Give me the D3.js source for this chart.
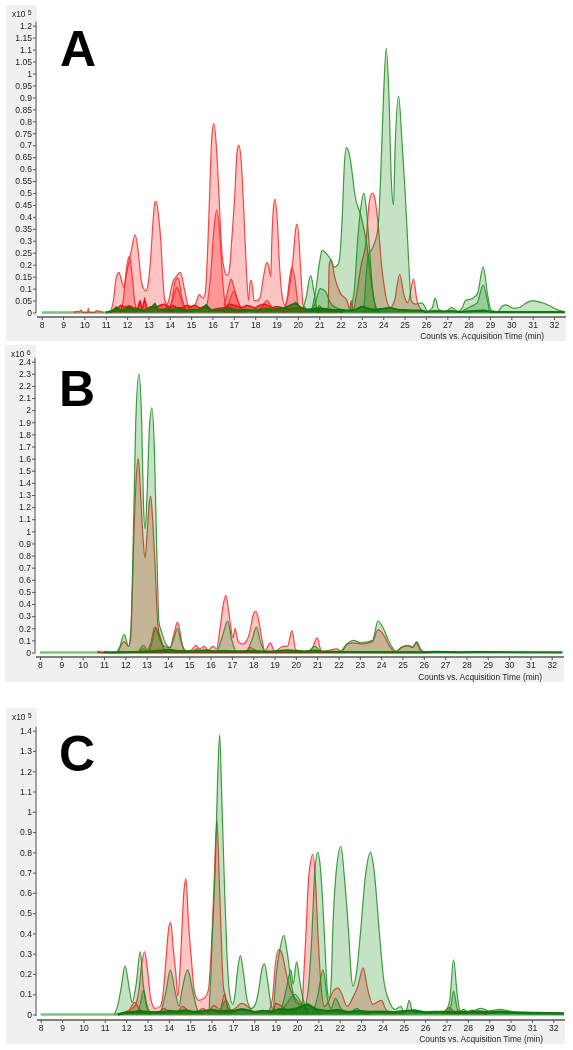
<!DOCTYPE html>
<html>
<head>
<meta charset="utf-8">
<script src="https://cdn.jsdelivr.net/npm/d3@7"></script>
<style>
  html, body { margin: 0; padding: 0; background: #fff; }
  svg { display: block; filter: blur(0.45px); }
  text { font-family: "Liberation Sans", Arial, sans-serif; fill: #222; }
</style>
</head>
<body>
<div id="chart"></div>
<script>
// Time axis, shared by the three runs
const xTicks = [8,9,10,11,12,13,14,15,16,17,18,19,20,21,22,23,24,25,26,27,28,29,30,31,32];
const yTicksA = [0,0.05,0.1,0.15,0.2,0.25,0.3,0.35,0.4,0.45,0.5,0.55,0.6,0.65,0.7,0.75,0.8,0.85,0.9,0.95,1,1.05,1.1,1.15,1.2];
const yTicksB = [0,0.1,0.2,0.3,0.4,0.5,0.6,0.7,0.8,0.9,1,1.1,1.2,1.3,1.4,1.5,1.6,1.7,1.8,1.9,2,2.1,2.2,2.3,2.4];
const yTicksC = [0,0.1,0.2,0.3,0.4,0.5,0.6,0.7,0.8,0.9,1,1.1,1.2,1.3,1.4];
const baseline = [[8,0],[32.5,0]];

// Panel A, pairs of [minutes, counts x10^5]
const aRedBlips = [[9.5,0],[9.6,.004],[9.75,.003],[9.85,.01],[9.92,0],[10.15,0],[10.18,.018],[10.22,0],[10.5,0],[10.55,.008],[10.75,.004],[10.9,0]];
const aRedEarly = [[11,0],[11.2,.005],[11.36,.05],[11.5,.15],[11.62,.168],[11.72,.14],[11.86,.105],[11.95,.15],[12.06,.2],[12.2,.26],[12.37,.325],[12.53,.25],[12.64,.15],[12.77,.1],[12.88,.09],[12.97,.11],[13.1,.22],[13.2,.36],[13.3,.46],[13.36,.465],[13.48,.4],[13.58,.3],[13.67,.15],[13.77,.05],[14,.02]];
const aRed121 = [[11.65,0],[11.82,.05],[11.95,.17],[12.1,.235],[12.22,.17],[12.35,.05],[12.5,0]];
const aRed14a = [[13.75,0],[13.95,.05],[14.15,.13],[14.3,.15],[14.5,.168],[14.68,.1],[14.88,.02],[15.05,0]];
const aRed14b = [[13.9,0],[14.1,.05],[14.25,.13],[14.4,.145],[14.55,.07],[14.8,0]];
const aRed14c = [[13.95,0],[14.15,.06],[14.35,.105],[14.52,.06],[14.75,0]];
const aRedMid = [[14.9,.02],[15.2,.035],[15.38,.075],[15.55,.06],[15.66,.08],[15.79,.3],[15.87,.5],[15.96,.72],[16.06,.79],[16.18,.7],[16.3,.5],[16.42,.28],[16.55,.18],[16.67,.155],[16.78,.17],[16.9,.3],[17.05,.5],[17.14,.66],[17.23,.7],[17.35,.63],[17.48,.4],[17.58,.2],[17.69,.05],[17.77,.13],[17.83,.135],[17.95,.05],[18.08,.05],[18.22,.06],[18.39,.15],[18.55,.21],[18.64,.19],[18.73,.15],[18.78,.3],[18.86,.44],[18.93,.475],[19.04,.38],[19.14,.2],[19.25,.08],[19.4,.03],[19.6,.1],[19.8,.25],[19.9,.35],[19.98,.37],[20.12,.2],[20.25,.03],[20.5,.01]];
const aRed162 = [[15.7,0],[15.92,.16],[16.08,.36],[16.2,.43],[16.34,.33],[16.48,.13],[16.65,.02],[16.85,0]];
const aRed169 = [[16.5,0],[16.72,.09],[16.87,.14],[17.05,.09],[17.27,.03],[17.5,0]];
const aRed170 = [[16.55,0],[16.8,.05],[17,.09],[17.22,.04],[17.45,0]];
const aRed185 = [[18,0],[18.3,.02],[18.55,.05],[18.8,.02],[19.1,.01],[19.4,0]];
const aRed197 = [[19.25,0],[19.48,.05],[19.72,.19],[19.86,.14],[20.02,.03],[20.2,0]];
const aRedLate = [[20.9,0],[21,.03],[21.2,.01],[21.42,.02],[21.47,.2],[21.55,.22],[21.75,.14],[22,.08],[22.3,.05],[22.42,.015],[22.5,.05],[22.6,.01],[22.72,.06],[22.97,.2],[23.2,.3],[23.33,.45],[23.48,.5],[23.6,.48],[23.78,.35],[23.92,.2],[24.06,.1],[24.33,.02],[24.53,.05],[24.77,.16],[24.98,.07],[25.15,.04],[25.42,.14],[25.58,.05],[25.8,.01],[26,0]];
const aRedNoise = [[11.2,0],[11.5,.012],[11.7,.03],[11.9,.022],[12.1,.028],[12.3,.02],[12.5,.016],[12.6,.05],[12.7,.012],[12.82,.055],[12.95,.015],[13.1,.025],[13.3,.02],[13.55,.03],[13.75,.035],[13.95,.02],[14.15,.03],[14.3,.02],[14.6,.02],[14.8,.03],[15,.025],[15.2,.03],[15.4,.018],[15.6,.025],[15.8,.015],[16,.012],[16.3,.018],[16.6,.02],[16.8,.035],[17,.03],[17.2,.025],[17.4,.02],[17.6,.03],[17.8,.025],[18,.018],[18.2,.03],[18.4,.035],[18.6,.03],[18.8,.02],[19,.025],[19.3,.02],[19.5,.015],[20,.02],[20.5,.01],[21,.012],[21.5,.006],[22,.005],[22.1,0]];
const aGreenNoise = [[11,0],[11.3,.006],[11.5,.022],[11.7,.008],[11.9,.012],[12.1,.022],[12.3,.01],[12.5,.016],[12.7,.008],[12.9,.012],[13.1,.016],[13.3,.036],[13.45,.012],[13.7,.012],[13.9,.014],[14.1,.01],[14.3,.018],[14.5,.013],[14.7,.01],[14.9,.009],[15.1,.012],[15.3,.01],[15.5,.014],[15.7,.032],[15.9,.012],[16.1,.01],[16.3,.009],[16.5,.012],[16.8,.018],[17,.012],[17.3,.009],[17.6,.011],[17.9,.008],[18.2,.012],[18.5,.016],[18.8,.012],[19.1,.016],[19.4,.02],[19.65,.03],[19.9,.04],[20.1,.022],[20.4,.012],[20.7,.015],[21,.018],[21.3,.015],[21.6,.012],[22,.01],[22.4,.008],[22.7,.012],[23,.025],[23.3,.016],[23.6,.012],[24,.016],[24.3,.02],[24.7,.012],[25,.01],[25.4,.008],[25.8,.008],[26,.003],[26.4,.006],[26.8,.004],[27.2,.006],[27.6,.002],[28.2,.006],[28.7,.008],[29.1,.002],[32.5,.002]];
const aGreen206 = [[20.22,.01],[20.38,.06],[20.6,.155],[20.75,.09],[20.9,.01],[21,0]];
const aGreen210 = [[20.55,0],[20.78,.03],[21.05,.1],[21.28,.09],[21.52,.04],[21.8,.02],[22.2,.01]];
const aGreen223 = [[20.65,.01],[20.85,.1],[21,.2],[21.14,.26],[21.4,.24],[21.55,.22],[21.72,.19],[21.88,.2],[21.98,.25],[22.08,.4],[22.18,.62],[22.27,.69],[22.42,.66],[22.55,.58],[22.66,.5],[22.97,.4],[23.2,.3],[23.48,.1],[23.67,0]];
const aGreen231 = [[22.45,.01],[22.65,.1],[22.8,.3],[22.95,.44],[23.09,.5],[23.2,.44],[23.33,.3],[23.5,.1],[23.67,.02],[23.85,0]];
const aGreen241 = [[23.1,.02],[23.3,.24],[23.5,.27],[23.75,.35],[23.87,.55],[24.02,.92],[24.14,1.105],[24.27,.9],[24.38,.55],[24.48,.45],[24.56,.7],[24.72,.905],[24.89,.7],[25.03,.5],[25.2,.2],[25.31,.05],[25.5,.035],[25.8,.04],[26.05,.005]];
const aGreenTail = [[26.1,.005],[26.3,.02],[26.43,.06],[26.6,.012],[26.9,.004],[27.2,.02],[27.5,.005],[27.7,.02],[27.85,.05],[28.2,.06],[28.42,.08],[28.68,.19],[28.9,.07],[29.05,.01],[29.35,.002],[29.55,.025],[29.75,.032],[30.1,.018],[30.35,.02],[30.7,.04],[31,.05],[31.4,.042],[31.8,.028],[32.2,.01],[32.5,.004]];
const aGreen287 = [[27.7,.005],[28.1,.025],[28.4,.04],[28.68,.115],[28.88,.05],[29,.005],[29.2,0]];

// Panel B, counts x10^6
const bRedMain = [[11.65,0],[11.95,.09],[12.15,.05],[12.25,.12],[12.4,.95],[12.5,1.4],[12.61,1.6],[12.72,1.3],[12.83,.95],[12.93,.78],[13.03,1],[13.12,1.22],[13.19,1.29],[13.3,1.05],[13.4,.7],[13.5,.3],[13.65,.1],[13.85,.05],[14.1,.04],[14.25,.13],[14.32,.18],[14.45,.25],[14.58,.16],[14.7,.05],[14.9,.01],[15.1,.02],[15.3,.06],[15.5,.03],[15.7,.05],[15.9,.02],[16.1,.05],[16.27,.03],[16.47,.23],[16.6,.4],[16.72,.47],[16.85,.34],[16.94,.22],[17.05,.12],[17.15,.2],[17.3,.09],[17.5,.07],[17.7,.1],[17.84,.17],[18,.31],[18.12,.34],[18.25,.27],[18.39,.13],[18.55,.01],[18.8,.08],[19,.01],[19.4,.05],[19.6,.05],[19.82,.18],[20,.02],[20.5,.01],[20.75,.03],[21,.12],[21.2,.01],[21.6,.02],[21.9,.03],[22.15,.01],[22.4,.07],[22.7,.08],[23.1,.07],[23.6,.09],[23.85,.19],[24.1,.15],[24.4,.05],[24.65,.005],[24.95,.04],[25.2,.055],[25.45,.045],[25.65,.08],[25.85,.01],[26,0]];
const bRed134 = [[13,0],[13.2,.08],[13.38,.21],[13.6,.15],[13.85,.02],[14.05,0]];
const bRedLow = [[12.6,0],[12.85,.03],[13.05,0],[15.1,0],[15.35,.03],[15.6,0],[17.6,0],[17.85,.04],[18.1,.02],[18.35,0]];
const bGreenMain = [[11.6,0],[11.75,.05],[11.95,.15],[12.15,.05],[12.25,.15],[12.4,1.15],[12.49,1.9],[12.64,2.3],[12.77,1.9],[12.85,1.25],[12.93,1.02],[13.02,1.3],[13.13,1.85],[13.25,2.02],[13.37,1.65],[13.47,.9],[13.58,.25],[13.7,.17],[13.9,.07],[14.1,.04],[14.25,.1],[14.45,.2],[14.6,.1],[14.8,.01],[15,0]];
const bGreen128 = [[12.6,0],[12.85,.06],[13.05,0]];
const bGreen134 = [[13.1,0],[13.25,.08],[13.42,.2],[13.6,.12],[13.9,.01],[14.1,0]];
const bGreen168 = [[16.3,0],[16.55,.13],[16.8,.26],[17,.1],[17.2,.01],[17.35,0]];
const bGreen181 = [[17.7,0],[17.95,.11],[18.15,.21],[18.35,.08],[18.55,.005]];
const bGreen209 = [[20.6,0],[20.9,.05],[21.1,.02],[21.25,0]];
const bGreenLate = [[22.1,0],[22.4,.07],[22.7,.1],[23.05,.08],[23.6,.1],[23.85,.26],[24.1,.2],[24.4,.08],[24.7,.01],[25,.05],[25.3,.06],[25.5,.04],[25.67,.09],[25.85,.03],[26.05,0]];
const bGreenNoise = [[11,0],[11.1,.004],[11.3,0],[12.8,.006],[13.8,.02],[14,.025],[14.4,.015],[14.8,.012],[15.2,.012],[15.8,.02],[16.1,.012],[16.6,.014],[17,.012],[17.5,.012],[18,.014],[18.5,.01],[19,.012],[19.6,.02],[20,.015],[20.4,.01],[20.9,.018],[21.3,.008],[21.8,.006],[22.3,.004],[26,.002],[26.5,.006],[27,.004],[27.5,.002],[28.6,.004],[32.5,.001]];
const bRedNoise = [[10.7,0],[10.75,.008],[10.8,0],[26.3,0],[26.35,.005],[26.6,.002],[26.9,.005],[27.2,.004],[27.45,.006],[27.6,0]];

// Panel C, counts x10^5
const cRedEarly = [[11.7,0],[12,.015],[12.3,.03],[12.45,.05],[12.6,.12],[12.72,.24],[12.87,.31],[13,.22],[13.15,.08],[13.35,.03],[13.6,.04],[13.75,.12],[13.85,.25],[14,.43],[14.09,.455],[14.2,.33],[14.33,.2],[14.42,.09],[14.55,.28],[14.7,.6],[14.8,.67],[14.92,.45],[15.05,.28],[15.2,.11],[15.4,.07],[15.65,.08],[15.85,.12],[16,.35],[16.1,.6],[16.25,.96],[16.35,.7],[16.44,.42],[16.55,.14],[16.65,.09],[16.78,.03],[17.1,.01]];
const cRedLowEarly = [[11.7,0],[12.1,.015],[12.4,.06],[12.6,.03],[12.9,.01],[13.5,.012],[13.8,.03],[14,.012],[14.4,.015],[14.65,.04],[14.9,.02],[15.3,.012],[15.6,.03],[15.85,.012],[16.1,.045],[16.4,.025],[16.6,.1],[16.8,.02],[17.1,.03],[17.4,.055],[17.7,.04],[18,.01],[18.4,.015],[18.9,.02],[19,.055],[19.3,.04],[19.6,.02],[20,.02]];
const cRedMid = [[18.65,.01],[18.85,.08],[19,.26],[19.15,.32],[19.3,.3],[19.5,.2],[19.7,.12],[20,.07],[20.23,.05],[20.32,.2],[20.42,.4],[20.55,.68],[20.75,.79],[20.87,.65],[20.98,.4],[21.12,.15],[21.28,.04],[21.5,.07],[21.72,.12],[21.92,.13],[22.1,.1],[22.35,.04],[22.6,.08],[22.85,.14],[23.1,.23],[23.3,.13],[23.55,.05],[23.95,.07],[24.2,.02],[24.7,.01],[25,0]];
const cGreen119 = [[11.45,0],[11.62,.05],[11.75,.12],[11.95,.24],[12.16,.12],[12.28,.06],[12.47,.15],[12.66,.31],[12.8,.15],[12.98,.03],[13.15,0]];
const cGreen128 = [[12.5,0],[12.68,.06],[12.82,.12],[12.97,.05],[13.15,0]];
const cGreen14 = [[13.6,0],[13.86,.11],[14.07,.22],[14.3,.11],[14.48,.04],[14.6,.11],[14.88,.22],[15.13,.11],[15.35,.02],[15.55,0]];
const cGreenMain = [[15.88,.01],[15.97,.2],[16.05,.42],[16.17,.72],[16.28,1.15],[16.38,1.38],[16.47,1.1],[16.6,.65],[16.72,.3],[16.85,.1],[17,.05],[17.1,.1],[17.22,.22],[17.35,.29],[17.5,.2],[17.65,.08],[17.85,.03],[18.05,.05],[18.22,.13],[18.35,.22],[18.48,.25],[18.62,.17],[18.78,.05],[18.95,.01]];
const cGreen166 = [[16.35,0],[16.68,.07],[16.95,0]];
const cGreen193 = [[18.9,.02],[19.03,.2],[19.2,.32],[19.38,.39],[19.55,.3],[19.75,.14],[19.95,.06],[20.3,.04],[20.5,.02]];
const cGreen199 = [[19.25,.02],[19.45,.1],[19.72,.22],[19.82,.15],[19.98,.26],[20.15,.15],[20.35,.05],[20.55,.01]];
const cGreen198 = [[19.1,0],[19.5,.05],[19.9,.1],[20.2,.06],[20.5,.03],[20.9,.02],[21.1,0]];
const cGreenBig = [[20.3,.02],[20.5,.1],[20.7,.4],[20.82,.68],[20.97,.8],[21.1,.72],[21.28,.4],[21.42,.12],[21.5,.08],[21.6,.16],[21.67,.4],[21.85,.72],[22.06,.83],[22.2,.7],[22.42,.4],[22.55,.18],[22.62,.14],[22.8,.22],[22.97,.4],[23.2,.68],[23.44,.8],[23.6,.72],[23.86,.4],[24.05,.18],[24.3,.07],[24.6,.025],[24.85,.04],[25.02,.012],[25.12,.02],[25.25,.07],[25.42,.012],[25.7,.01]];
const cGreen212 = [[20.7,0],[20.95,.08],[21.22,.22],[21.42,.08],[21.6,.03],[21.8,.08],[22.05,.03],[22.4,.005],[22.8,.03],[23.1,.008],[23.4,0]];
const cGreen273 = [[26.95,.012],[27.15,.07],[27.33,.27],[27.5,.1],[27.62,.012]];
const cGreen2732 = [[27,.005],[27.2,.04],[27.33,.115],[27.5,.03],[27.62,.005]];
const cGreenTail = [[27.6,.01],[27.8,.025],[28,.012],[28.3,.02],[28.6,.03],[29,.018],[29.5,.025],[29.9,.018],[30.3,.012],[30.8,.012],[31.4,.01],[32,.008],[32.5,.006]];
const cRedTail = [[26.8,0],[27.15,.035],[27.4,.005],[27.9,.005],[28.2,.022],[28.5,.005],[28.9,0]];
const cGreenNoise = [[11.6,0],[11.9,.008],[12.3,.012],[12.6,.016],[13,.012],[13.3,.01],[13.7,.012],[14,.018],[14.4,.014],[14.8,.02],[15.2,.012],[15.6,.016],[16,.022],[16.3,.016],[16.7,.018],[17,.016],[17.4,.026],[17.7,.02],[18,.012],[18.4,.018],[18.8,.014],[19.2,.026],[19.6,.022],[20,.03],[20.5,.05],[20.9,.025],[21.4,.016],[21.9,.022],[22.4,.012],[22.8,.018],[23.4,.012],[24,.014],[24.5,.01],[25,.016],[25.5,.02],[26,.01],[26.5,.012],[27,.012],[27.6,.012],[28,.012],[28.5,.015],[29,.01],[29.5,.014],[30,.01],[30.5,.008],[31,.007],[31.5,.007],[32.5,.005]];

// The chart software draws each compound trace on top of the previous one
const aRed = [aRedBlips, aRedEarly, aRed121, aRed14a, aRed14b, aRed14c, aRedMid, aRed162, aRed169, aRed170, aRed185, aRed197, aRedLate];
const aGreen = [aGreen206, aGreen210, aGreen223, aGreen231, aGreen241, aGreenTail, aGreen287];
const bRed = [bRedMain, bRed134, bRedLow];
const bGreen = [bGreenMain, bGreen128, bGreen134, bGreen168, bGreen181, bGreen209, bGreenLate];
const cRed = [cRedEarly, cRedLowEarly, cRedMid, cRedTail];
const cGreen = [cGreen119, cGreen128, cGreen14, cGreenMain, cGreen166, cGreen193, cGreen199, cGreen198, cGreenBig, cGreen212, cGreen273, cGreen2732, cGreenTail];

const svg = d3.select("#chart").append("svg").attr("width", 573).attr("height", 1050);

function drawPanel(p) {
  const xScale = d3.scaleLinear().domain([8, 32]).range([p.x8, p.x32]);
  const yScale = d3.scaleLinear().domain([0, p.yMax]).range([p.y0, p.yTop]);
  const g = svg.append("g");

  // grey chrome around the white plot
  g.append("rect").attr("x", p.left).attr("y", p.top).attr("width", p.plotLeft - p.left).attr("height", p.bottom - p.top).attr("fill", "#f0f0f0");
  g.append("rect").attr("x", p.left).attr("y", p.axisY + 1).attr("width", p.right - p.left).attr("height", p.bottom - p.axisY - 1).attr("fill", "#f0f0f0");

  const clipId = "clip" + p.name;
  g.append("clipPath").attr("id", clipId).append("rect")
    .attr("x", p.plotLeft).attr("y", p.top).attr("width", p.right - p.plotLeft).attr("height", p.axisY - p.top - 1);
  const plot = g.append("g").attr("clip-path", `url(#${clipId})`);

  const area = d3.area().x(d => xScale(d[0])).y0(p.y0).y1(d => yScale(d[1])).curve(d3.curveMonotoneX);
  const line = d3.line().x(d => xScale(d[0])).y(d => yScale(d[1])).curve(d3.curveMonotoneX);
  const jaggedArea = d3.area().x(d => xScale(d[0])).y0(p.y0).y1(d => yScale(d[1]));
  const jagged = d3.line().x(d => xScale(d[0])).y(d => yScale(d[1]));

  plot.append("path").attr("d", jagged(baseline)).attr("fill", "none")
    .attr("stroke", "#7fbf7f").attr("stroke-width", 2.4);

  const drawTraces = (traces, fill, stroke) => {
    traces.forEach(trace => {
      plot.append("path").attr("d", area(trace)).attr("fill", fill);
      plot.append("path").attr("d", line(trace)).attr("fill", "none")
        .attr("stroke", stroke).attr("stroke-width", 1.2).attr("stroke-linejoin", "round");
    });
  };
  const drawNoise = (trace, fill, stroke, width) => {
    plot.append("path").attr("d", jaggedArea(trace)).attr("fill", fill);
    plot.append("path").attr("d", jagged(trace)).attr("fill", "none").attr("stroke", stroke).attr("stroke-width", width);
  };

  drawTraces(p.red, "rgba(255,0,0,0.23)", "rgba(245,40,40,0.85)");
  if (p.redNoise) drawNoise(p.redNoise, "rgba(235,10,10,0.6)", "#ee1111", 1.5);
  drawTraces(p.green, "rgba(0,128,0,0.23)", "rgba(30,140,30,0.85)");
  drawNoise(p.greenNoise, "rgba(10,120,10,0.7)", "#0a7a0a", p.noiseWidth);

  // y axis
  g.append("g").attr("transform", `translate(${p.plotLeft - 1},0)`)
    .call(d3.axisLeft(yScale).tickValues(p.yTicks).tickFormat(d => d).tickSize(3).tickSizeOuter(0).tickPadding(1))
    .call(a => a.select(".domain").attr("d", `M0,${p.yTop - 4}V${p.axisY - 4}`).attr("stroke", "#555"))
    .call(a => a.selectAll("text").style("font-size", "8.6px"))
    .call(a => a.selectAll("line").attr("stroke", "#555"));

  // x axis
  g.append("g").attr("transform", `translate(0,${p.axisY})`)
    .call(d3.axisBottom(xScale).tickValues(xTicks).tickFormat(d => d).tickSize(3).tickSizeOuter(0).tickPadding(1.5))
    .call(a => a.select(".domain").attr("d", `M${p.plotLeft},0H${p.right}`).attr("stroke", "#808080").attr("stroke-width", 2))
    .call(a => a.selectAll("text").style("font-size", "8.6px"))
    .call(a => a.selectAll("line").attr("stroke", "#555"));

  g.append("text").attr("x", p.right - 22).attr("y", p.bottom - 2.5).attr("text-anchor", "end")
    .style("font-size", "8.4px").text("Counts vs. Acquisition Time (min)");

  const mult = g.append("text").attr("x", p.left + 6).attr("y", p.top + 12).style("font-size", "8.4px");
  mult.append("tspan").text("x10 ");
  mult.append("tspan").attr("dy", -2).style("font-size", "7px").text(p.power);

  g.append("text").attr("x", p.labelX).attr("y", p.labelY)
    .style("font-size", "50px").style("font-weight", "bold").style("fill", "#000").text(p.name);
}

drawPanel({ name: "A", power: "5", red: aRed, green: aGreen, redNoise: aRedNoise, greenNoise: aGreenNoise, noiseWidth: 2, yTicks: yTicksA, yMax: 1.2,
  left: 6, top: 5, right: 566, bottom: 341, plotLeft: 37, axisY: 317, x8: 41.7, x32: 554, y0: 312.5, yTop: 25.7, labelX: 60, labelY: 66 });
drawPanel({ name: "B", power: "6", red: bRed, green: bGreen, redNoise: bRedNoise, greenNoise: bGreenNoise, noiseWidth: 1.8, yTicks: yTicksB, yMax: 2.4,
  left: 5, top: 345, right: 564, bottom: 682, plotLeft: 36, axisY: 657, x8: 40, x32: 551.7, y0: 652.5, yTop: 361.7, labelX: 59, labelY: 406 });
drawPanel({ name: "C", power: "5", red: cRed, green: cGreen, greenNoise: cGreenNoise, noiseWidth: 2.4, yTicks: yTicksC, yMax: 1.4,
  left: 6, top: 708, right: 565, bottom: 1044, plotLeft: 37, axisY: 1020, x8: 40.7, x32: 553.3, y0: 1014.5, yTop: 730.7, labelX: 59, labelY: 771 });
</script>
</body>
</html>
